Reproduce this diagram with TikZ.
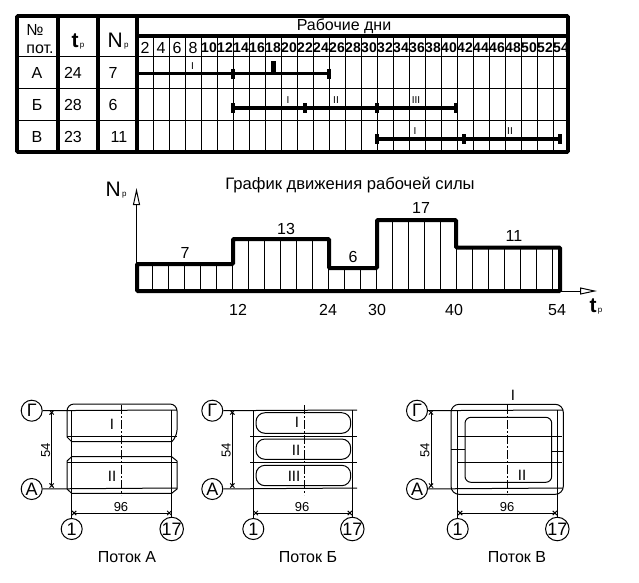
\documentclass[tikz,border=0pt]{standalone}
\usepackage{fontspec}
\setmainfont{Liberation Sans}
\usetikzlibrary{arrows.meta}
\newcommand{\fs}[1]{\fontsize{#1}{#1}\selectfont}
\newcommand{\tpr}{{\fs{21}\bfseries t}{\fs{8}\,р}}
\newcommand{\Npr}{{\fs{21}N}{\fs{8}\,р}}
\newcommand{\stairpath}{(137,291) -- (137,264) -- (233,264) -- (233,239) -- (329,239) -- (329,268) -- (377,268) -- (377,220) -- (456,220) -- (456,247.5) -- (560,247.5) -- (560,291) -- cycle}
\tikzset{
  thinln/.style={line width=1pt},
  heavyln/.style={line width=3.6pt},
  txt/.style={font=\fs{16},inner sep=0pt},
  smalltxt/.style={font=\fs{15},inner sep=0pt},
  daytxt/.style={font=\fs{14},inner sep=0pt},
  gantttick/.style={line width=4.2pt},
  axisnum/.style={circle,draw,line width=1pt,minimum size=21pt,inner sep=0pt,font=\fs{18}},
  dimln/.style={thinln,{Rays[n=4,length=6pt,width=6pt]}-{Rays[n=4,length=6pt,width=6pt]}},
  hollowtip/.style={thinln,-{Triangle[open,length=17pt,width=7pt]}}
}

\begin{document}
\begin{tikzpicture}[x=1pt,y=-1pt]
  \useasboundingbox (0,0) rectangle (639,582);
  % table grid
  \foreach \x in {153,169,...,553} {\draw[thinln] (\x,36)--(\x,152);}
  \foreach \y in {56,88,120} {\draw[thinln] (17,\y)--(568,\y);}
  \draw[heavyln] (137,36)--(568,36);
  \foreach \x in {58,98,137} {\draw[heavyln] (\x,16)--(\x,152);}
  \draw[heavyln,rounded corners=1pt] (17,16) rectangle (568,152);
  % table head
  \node[txt,align=left] (numhead) at (40,39) {№\\[2pt]пот.};
  \node[inner sep=0pt] (thead) at (78,41) {\tpr};
  \node[inner sep=0pt] (nhead) at (118,41) {\Npr};
  \node[txt] (dayshead) at (344,26) {Рабочие дни};
  \foreach \d in {2,4,6,8} {\node[txt] (day\d) at ({129+8*\d},48) {\d};}
  \foreach \d in {10,12,...,54} {\node[daytxt,font=\fs{14}\bfseries] (day\d) at ({129+8*\d},48) {\d};}
  % table rows
  \foreach \n/\p/\t/\w/\y/\xw in {a/А/24/7/73/113,b/Б/28/6/105/113,v/В/23/11/137/119} {
    \node[txt] (p\n) at (37,\y) {\p};
    \node[txt] (t\n) at (73,\y) {\t};
    \node[txt] (w\n) at (\xw,\y) {\w};
  }
  % gantt bars
  \draw[dashed,thinln] (233,73)--(233,108);
  \draw[dashed,thinln] (377,108)--(377,139);
  \foreach \xa/\xb/\y in {137/329/73.5,233/456/108,377/560/139} {\draw[heavyln] (\xa,\y)--(\xb,\y);}
  \foreach \x/\y in {233/73.5,329/73.5,233/108,305/108,377/108,456/108,377/139,464/139,560/139} {\draw[gantttick] (\x,\y-5)--(\x,\y+5);}
  \draw[line width=5pt] (273,61)--(273,73);
  \foreach \x/\y/\r in {192.5/66/I,288/100/I,336/100/II,416/100/III,415/131/I,510/131/II} {\node[font=\fs{10},inner sep=0pt] at (\x,\y) {\r};}
  % chart
  \node[font=\fs{16.6},inner sep=0pt] (charttitle) at (350,185) {График движения рабочей силы};
  \node[inner sep=0pt] (ylab) at (116,190) {\Npr};
  \node[inner sep=0pt] (xlab) at (596,306) {\tpr};
  \coordinate (orig) at (136.5,291);
  \coordinate (ytip) at (136.5,188);
  \coordinate (xtip) at (597,291);
  \draw[hollowtip] (orig)--(ytip);
  \draw[hollowtip] (orig)--(xtip);
  \begin{scope}
    \clip \stairpath;
    \foreach \x in {153,169,...,553} {\draw[thinln] (\x-0.5,210)--(\x-0.5,291);}
  \end{scope}
  \draw[line width=4pt,rounded corners=1pt] \stairpath;
  \foreach \x/\y/\v in {185/253/7,286/229/13,353/257/6,421/208/17,514/236/11} {\node[txt] at (\x,\y) {\v};}
  \foreach \x/\v in {238/12,328/24,377/30,454/40,557/54} {\node[txt] at (\x,310) {\v};}
  % plans
  \foreach \n/\xl/\xr/\xc/\xd/\xm/\cap/\xcap/\xst/\xen in {a/71.7/171.7/31.7/51.7/121/А/127/67/177,b/253.3/352.3/212.3/232.3/302/Б/308/250/357,v/457.7/557.3/417/431/507/В/517/451/563} {
    \node[axisnum] (g\n) at (\xc,410.7) {Г};
    \node[axisnum] (a\n) at (\xc,489) {А};
    \node[axisnum] (one\n) at (\xl,529) {1};
    \node[axisnum] (last\n) at (\xr,529) {17};
    \draw[thinln] (g\n)--(\xen,410);
    \draw[thinln] (a\n)--(\xen,488);
    \draw[thinln] (one\n)--(\xl,410);
    \draw[thinln] (last\n)--(\xr,410);
    \draw[dimln] (\xd,410)--(\xd,488);
    \draw[dimln] (\xl,513)--(\xr,513);
    \node[font=\fs{13},inner sep=0pt,rotate=90] (h\n) at (\xd-6,450) {54};
    \node[font=\fs{13},inner sep=0pt] (d\n) at (\xm,507) {96};
    \node[txt] (cap\n) at (\xcap,557) {Поток \cap};
  }
  % middle lines of the plans
  \foreach \xa/\xb in {67/177,250/357,458/562} {\draw[thinln] (\xa,436.7)--(\xb,436.7); \draw[thinln] (\xa,462.3)--(\xb,462.3);}
  \foreach \x in {121.7,304,507.7} {\draw[thinln,dash pattern=on 9pt off 2pt on 2pt off 2pt] (\x,405)--(\x,495);}
  % plan A
  \draw[thinln] (71.7,441.7)--(67,437) [rounded corners=7pt] --(67,404)--(177,404)--(177,437) [sharp corners] --(171.7,441.7)--cycle;
  \draw[thinln] (71.7,456.7)--(67,461)--(67,489)--(71.7,493.3)--(171.7,493.3)--(177,489)--(177,461)--(171.7,456.7)--cycle;
  \node[smalltxt] at (112,424) {I};
  \node[smalltxt] at (112,476) {II};
  % plan B
  \foreach \ya/\yb/\r/\x/\yt in {412.7/433.3/I/297/422,439/459.3/II/296/450,465.3/485.7/III/294/476} {
    \draw[thinln,rounded corners=9pt] (256,\ya) rectangle (350.7,\yb);
    \node[smalltxt] at (\x,\yt) {\r};
  }
  % plan V
  \draw[thinln,rounded corners=8pt] (451,404.3) rectangle (563.3,494.3);
  \draw[thinln,rounded corners=6pt] (465,417.3) rectangle (551.7,482.3);
  \draw[thinln] (451,449.3)--(465,449.3);
  \draw[thinln] (551.7,451)--(563.3,451);
  \node[smalltxt] at (513,395) {I};
  \node[smalltxt] at (522,475) {II};
\end{tikzpicture}
\end{document}
